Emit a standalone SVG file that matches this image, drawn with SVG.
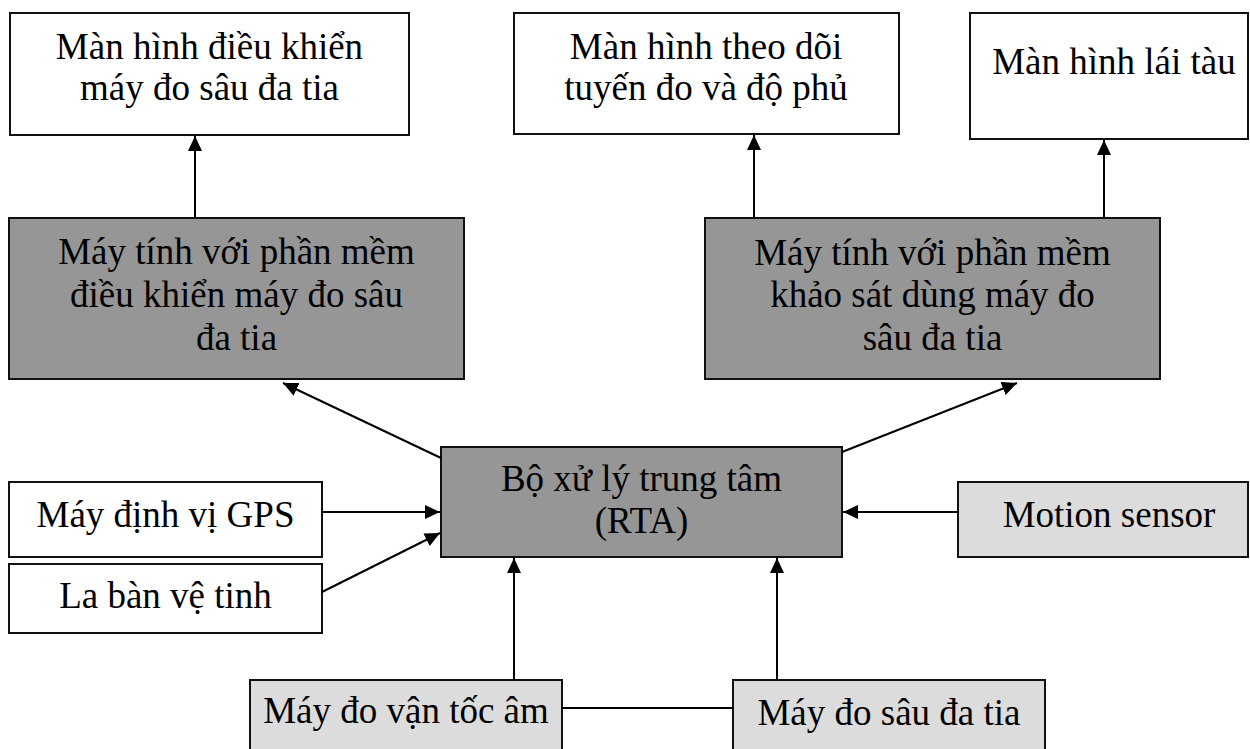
<svg xmlns="http://www.w3.org/2000/svg" width="1250" height="749" viewBox="0 0 1250 749">
  <style>
    .box { stroke: #111; stroke-width: 2; }
    .white { fill: #ffffff; }
    .dark { fill: #969696; }
    .light { fill: #dcdcdc; }
    .lbl { font-family: "Liberation Serif", "Times New Roman", serif; font-size: 37px; fill: #000; text-anchor: middle; }
    .wire { stroke: #000; stroke-width: 2; fill: none; }
    .arrow { marker-end: url(#head); }
  </style>
  <defs>
    <marker id="head" markerUnits="userSpaceOnUse" markerWidth="16" markerHeight="14" refX="15" refY="7" orient="auto">
      <path d="M0,0 L15,7 L0,14 Z" fill="#000"/>
    </marker>
  </defs>
  <rect width="1250" height="749" fill="#ffffff"/>

  <!-- display screens -->
  <g id="control-display">
    <rect class="box white" x="10" y="13" width="399" height="122"/>
    <text class="lbl" x="209.5" y="59">Màn hình điều khiển</text>
    <text class="lbl" x="209.5" y="100">máy đo sâu đa tia</text>
  </g>
  <g id="coverage-display">
    <rect class="box white" x="514" y="13" width="385" height="121"/>
    <text class="lbl" x="706" y="59">Màn hình theo dõi</text>
    <text class="lbl" x="706" y="100">tuyến đo và độ phủ</text>
  </g>
  <g id="helm-display">
    <rect class="box white" x="970" y="13" width="278" height="126"/>
    <text class="lbl" x="1114" y="74">Màn hình lái tàu</text>
  </g>

  <!-- computers -->
  <g id="control-pc">
    <rect class="box dark" x="9" y="218" width="455" height="161"/>
    <text class="lbl" x="236.5" y="264">Máy tính với phần mềm</text>
    <text class="lbl" x="236.5" y="307">điều khiển máy đo sâu</text>
    <text class="lbl" x="236.5" y="350">đa tia</text>
  </g>
  <g id="survey-pc">
    <rect class="box dark" x="705" y="218" width="455" height="161"/>
    <text class="lbl" x="932.5" y="265">Máy tính với phần mềm</text>
    <text class="lbl" x="932.5" y="307">khảo sát dùng máy đo</text>
    <text class="lbl" x="932.5" y="350">sâu đa tia</text>
  </g>

  <!-- central processor -->
  <g id="rta">
    <rect class="box dark" x="441" y="447" width="401" height="110"/>
    <text class="lbl" x="641.5" y="491">Bộ xử lý trung tâm</text>
    <text class="lbl" x="641.5" y="533">(RTA)</text>
  </g>

  <!-- sensors -->
  <g id="gps">
    <rect class="box white" x="9" y="482" width="313" height="75"/>
    <text class="lbl" x="165.5" y="527">Máy định vị GPS</text>
  </g>
  <g id="compass">
    <rect class="box white" x="9" y="564" width="313" height="69"/>
    <text class="lbl" x="165.5" y="608">La bàn vệ tinh</text>
  </g>
  <g id="motion-sensor">
    <rect class="box light" x="958" y="482" width="290" height="75"/>
    <text class="lbl" x="1109" y="527">Motion sensor</text>
  </g>
  <g id="sound-velocity">
    <rect class="box light" x="250" y="680" width="312" height="80"/>
    <text class="lbl" x="406" y="723">Máy đo vận tốc âm</text>
  </g>
  <g id="multibeam">
    <rect class="box light" x="733" y="680" width="312" height="80"/>
    <text class="lbl" x="889" y="725">Máy đo sâu đa tia</text>
  </g>

  <!-- connectors -->
  <g id="connectors">
    <line class="wire arrow" x1="195" y1="218" x2="195" y2="136"/>
    <line class="wire arrow" x1="754" y1="218" x2="754" y2="135"/>
    <line class="wire arrow" x1="1104" y1="218" x2="1104" y2="140"/>
    <line class="wire arrow" x1="441" y1="458" x2="283" y2="383"/>
    <line class="wire arrow" x1="842" y1="452" x2="1017" y2="383"/>
    <line class="wire arrow" x1="322" y1="512" x2="440" y2="512"/>
    <line class="wire arrow" x1="322" y1="592" x2="440" y2="533"/>
    <line class="wire arrow" x1="958" y1="512" x2="843" y2="512"/>
    <line class="wire arrow" x1="514" y1="680" x2="514" y2="558"/>
    <line class="wire arrow" x1="777" y1="680" x2="777" y2="558"/>
    <line class="wire" x1="562" y1="708" x2="733" y2="708"/>
  </g>
</svg>
